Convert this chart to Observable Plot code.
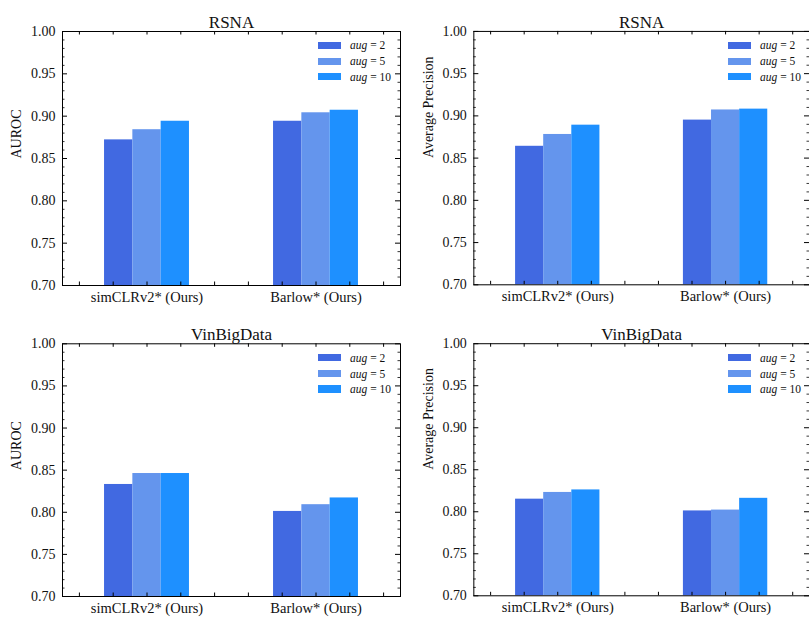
<!DOCTYPE html>
<html>
<head>
<meta charset="utf-8">
<script src="https://cdn.jsdelivr.net/npm/d3@7"></script>
<script src="https://cdn.jsdelivr.net/npm/@observablehq/plot@0.6"></script>
<style>
  html, body { margin: 0; padding: 0; background: #fff; }
  #root { position: relative; width: 809px; height: 618px; overflow: hidden; background: #fff;
          font-family: "Liberation Serif", "Times New Roman", "DejaVu Serif", serif; color: #111; }
  .panel { position: absolute; }
  .panel svg text { font-family: "Liberation Serif", "Times New Roman", "DejaVu Serif", serif; }
  .legend { position: absolute; font-size: 11.5px; font-family: "Liberation Serif", "Times New Roman", "DejaVu Serif", serif; }
  .legend .row { position: absolute; left: 0; white-space: nowrap; }
  .legend .sw { position: absolute; left: 0; width: 23px; height: 7.5px; }
  .legend .lb { position: absolute; left: 32px; line-height: 12px; }
</style>
</head>
<body>
<div id="root"></div>
<script>
// ---- data ----
const methods = ["simCLRv2* (Ours)", "Barlow* (Ours)"];
const augValues = [2, 5, 10];
const augLabels = ["aug = 2", "aug = 5", "aug = 10"];
const colors = ["#4169E1", "#6495ED", "#1E90FF"];
const yTicks = [0.70, 0.75, 0.80, 0.85, 0.90, 0.95, 1.00];

// values per aug setting, [simCLRv2*, Barlow*]
const rsnaAuroc2 = [0.872, 0.894];
const rsnaAuroc5 = [0.884, 0.904];
const rsnaAuroc10 = [0.894, 0.907];

const rsnaAp2 = [0.864, 0.895];
const rsnaAp5 = [0.878, 0.907];
const rsnaAp10 = [0.889, 0.908];

const vinAuroc2 = [0.833, 0.801];
const vinAuroc5 = [0.846, 0.809];
const vinAuroc10 = [0.846, 0.817];

const vinAp2 = [0.815, 0.801];
const vinAp5 = [0.823, 0.802];
const vinAp10 = [0.826, 0.816];

const titles = ["RSNA", "RSNA", "VinBigData", "VinBigData"];
const yLabels = ["AUROC", "Average Precision", "AUROC", "Average Precision"];

// ---- drawing ----
const FONT = "'Liberation Serif', 'Times New Roman', 'DejaVu Serif', serif";
const barW = 0.1675;
const minorY = d3.range(70, 101).map(i => i / 100).filter(v => Math.round(v * 100) % 5 !== 0);
const xMinor = d3.range(-2, 8).map(i => i / 5);

function makePanel(series, title, ylabel, box) {
  const {width, height, marginLeft, marginRight, marginTop, marginBottom} = box;
  const fw = width - marginLeft - marginRight;
  const fh = height - marginTop - marginBottom;
  const data = [];
  methods.forEach((m, gi) => series.forEach((vals, si) => {
    data.push({method: m, gi, si, aug: augLabels[si], value: vals[gi]});
  }));
  const stroke = "#000";
  return Plot.plot({
    width, height, marginLeft, marginRight, marginTop, marginBottom,
    style: {fontFamily: FONT, fontSize: "14px", color: "#111", background: "transparent", overflow: "visible"},
    x: {domain: [-0.5, 1.5], axis: null},
    y: {domain: [0.7, 1.0], axis: null},
    color: {domain: augLabels, range: colors},
    marks: [
      Plot.rect(data, {
        x1: d => d.gi + (d.si - 1.5) * barW,
        x2: d => d.gi + (d.si - 0.5) * barW,
        y1: d => 0.7,
        y2: "value",
        fill: "aug"
      }),
      Plot.frame({stroke, strokeWidth: 1}),
      // inward y ticks, left & right
      Plot.tickY(yTicks, {y: d => d, insetRight: fw - 5, stroke, strokeWidth: 1}),
      Plot.tickY(yTicks, {y: d => d, insetLeft: fw - 5, stroke, strokeWidth: 1}),
      Plot.tickY(minorY, {y: d => d, insetRight: fw - 2.5, stroke, strokeWidth: 0.8}),
      Plot.tickY(minorY, {y: d => d, insetLeft: fw - 2.5, stroke, strokeWidth: 0.8}),
      // inward x ticks, bottom & top
      Plot.tickX(xMinor, {x: d => d, insetTop: fh - 3.5, stroke, strokeWidth: 1}),
      Plot.tickX(xMinor, {x: d => d, insetBottom: fh - 3.5, stroke, strokeWidth: 1}),
      Plot.axisY({ticks: yTicks, tickFormat: d3.format(".2f"), tickSize: 0, tickPadding: 7, label: null, fontSize: 14, fontFamily: FONT, fill: "#111"}),
      Plot.axisX({ticks: [0, 1], tickFormat: i => methods[i], tickSize: 0, tickPadding: 6, label: null, fontSize: 14.5, fontFamily: FONT, fill: "#111"}),
      Plot.text([title], {frameAnchor: "top", dy: -16, fontSize: 17, fontFamily: FONT, fill: "#111"}),
      Plot.text([ylabel], {frameAnchor: "left", dx: -45.5, rotate: -90, fontSize: 14, fontFamily: FONT, fill: "#111"})
    ]
  });
}

const root = document.getElementById("root");
const boxes = [
  {left: 0,   top: 0,   width: 405, height: 310, marginLeft: 62,   marginRight: 5, marginTop: 31,   marginBottom: 25},
  {left: 405, top: 0,   width: 405, height: 310, marginLeft: 68.5, marginRight: 0, marginTop: 31,   marginBottom: 25},
  {left: 0,   top: 310, width: 405, height: 308, marginLeft: 62,   marginRight: 5, marginTop: 33.3, marginBottom: 22},
  {left: 405, top: 310, width: 405, height: 308, marginLeft: 68.5, marginRight: 0, marginTop: 33.3, marginBottom: 22}
];
const panelSeries = [
  [rsnaAuroc2, rsnaAuroc5, rsnaAuroc10],
  [rsnaAp2, rsnaAp5, rsnaAp10],
  [vinAuroc2, vinAuroc5, vinAuroc10],
  [vinAp2, vinAp5, vinAp10]
];

boxes.forEach((b, i) => {
  const div = document.createElement("div");
  div.className = "panel";
  div.style.left = b.left + "px";
  div.style.top = b.top + "px";
  div.appendChild(makePanel(panelSeries[i], titles[i], yLabels[i], b));
  root.appendChild(div);

  // legend (upper right, inside frame)
  const frameRight = b.left + b.width - b.marginRight;
  const frameTop = b.top + b.marginTop;
  const lg = document.createElement("div");
  lg.className = "legend";
  lg.style.left = (frameRight - 82) + "px";
  lg.style.top = frameTop + "px";
  const rowY = [14.3, 30.3, 45.5];
  augLabels.forEach((lab, k) => {
    const row = document.createElement("div");
    row.className = "row";
    row.style.top = (rowY[k] - 6) + "px";
    const sw = document.createElement("div");
    sw.className = "sw";
    sw.style.background = colors[k];
    sw.style.top = (6 - 3.75) + "px";
    const lb = document.createElement("div");
    lb.className = "lb";
    lb.innerHTML = "<i>aug</i> = " + augValues[k];
    row.appendChild(sw);
    row.appendChild(lb);
    lg.appendChild(row);
  });
  root.appendChild(lg);
});
</script>
</body>
</html>
